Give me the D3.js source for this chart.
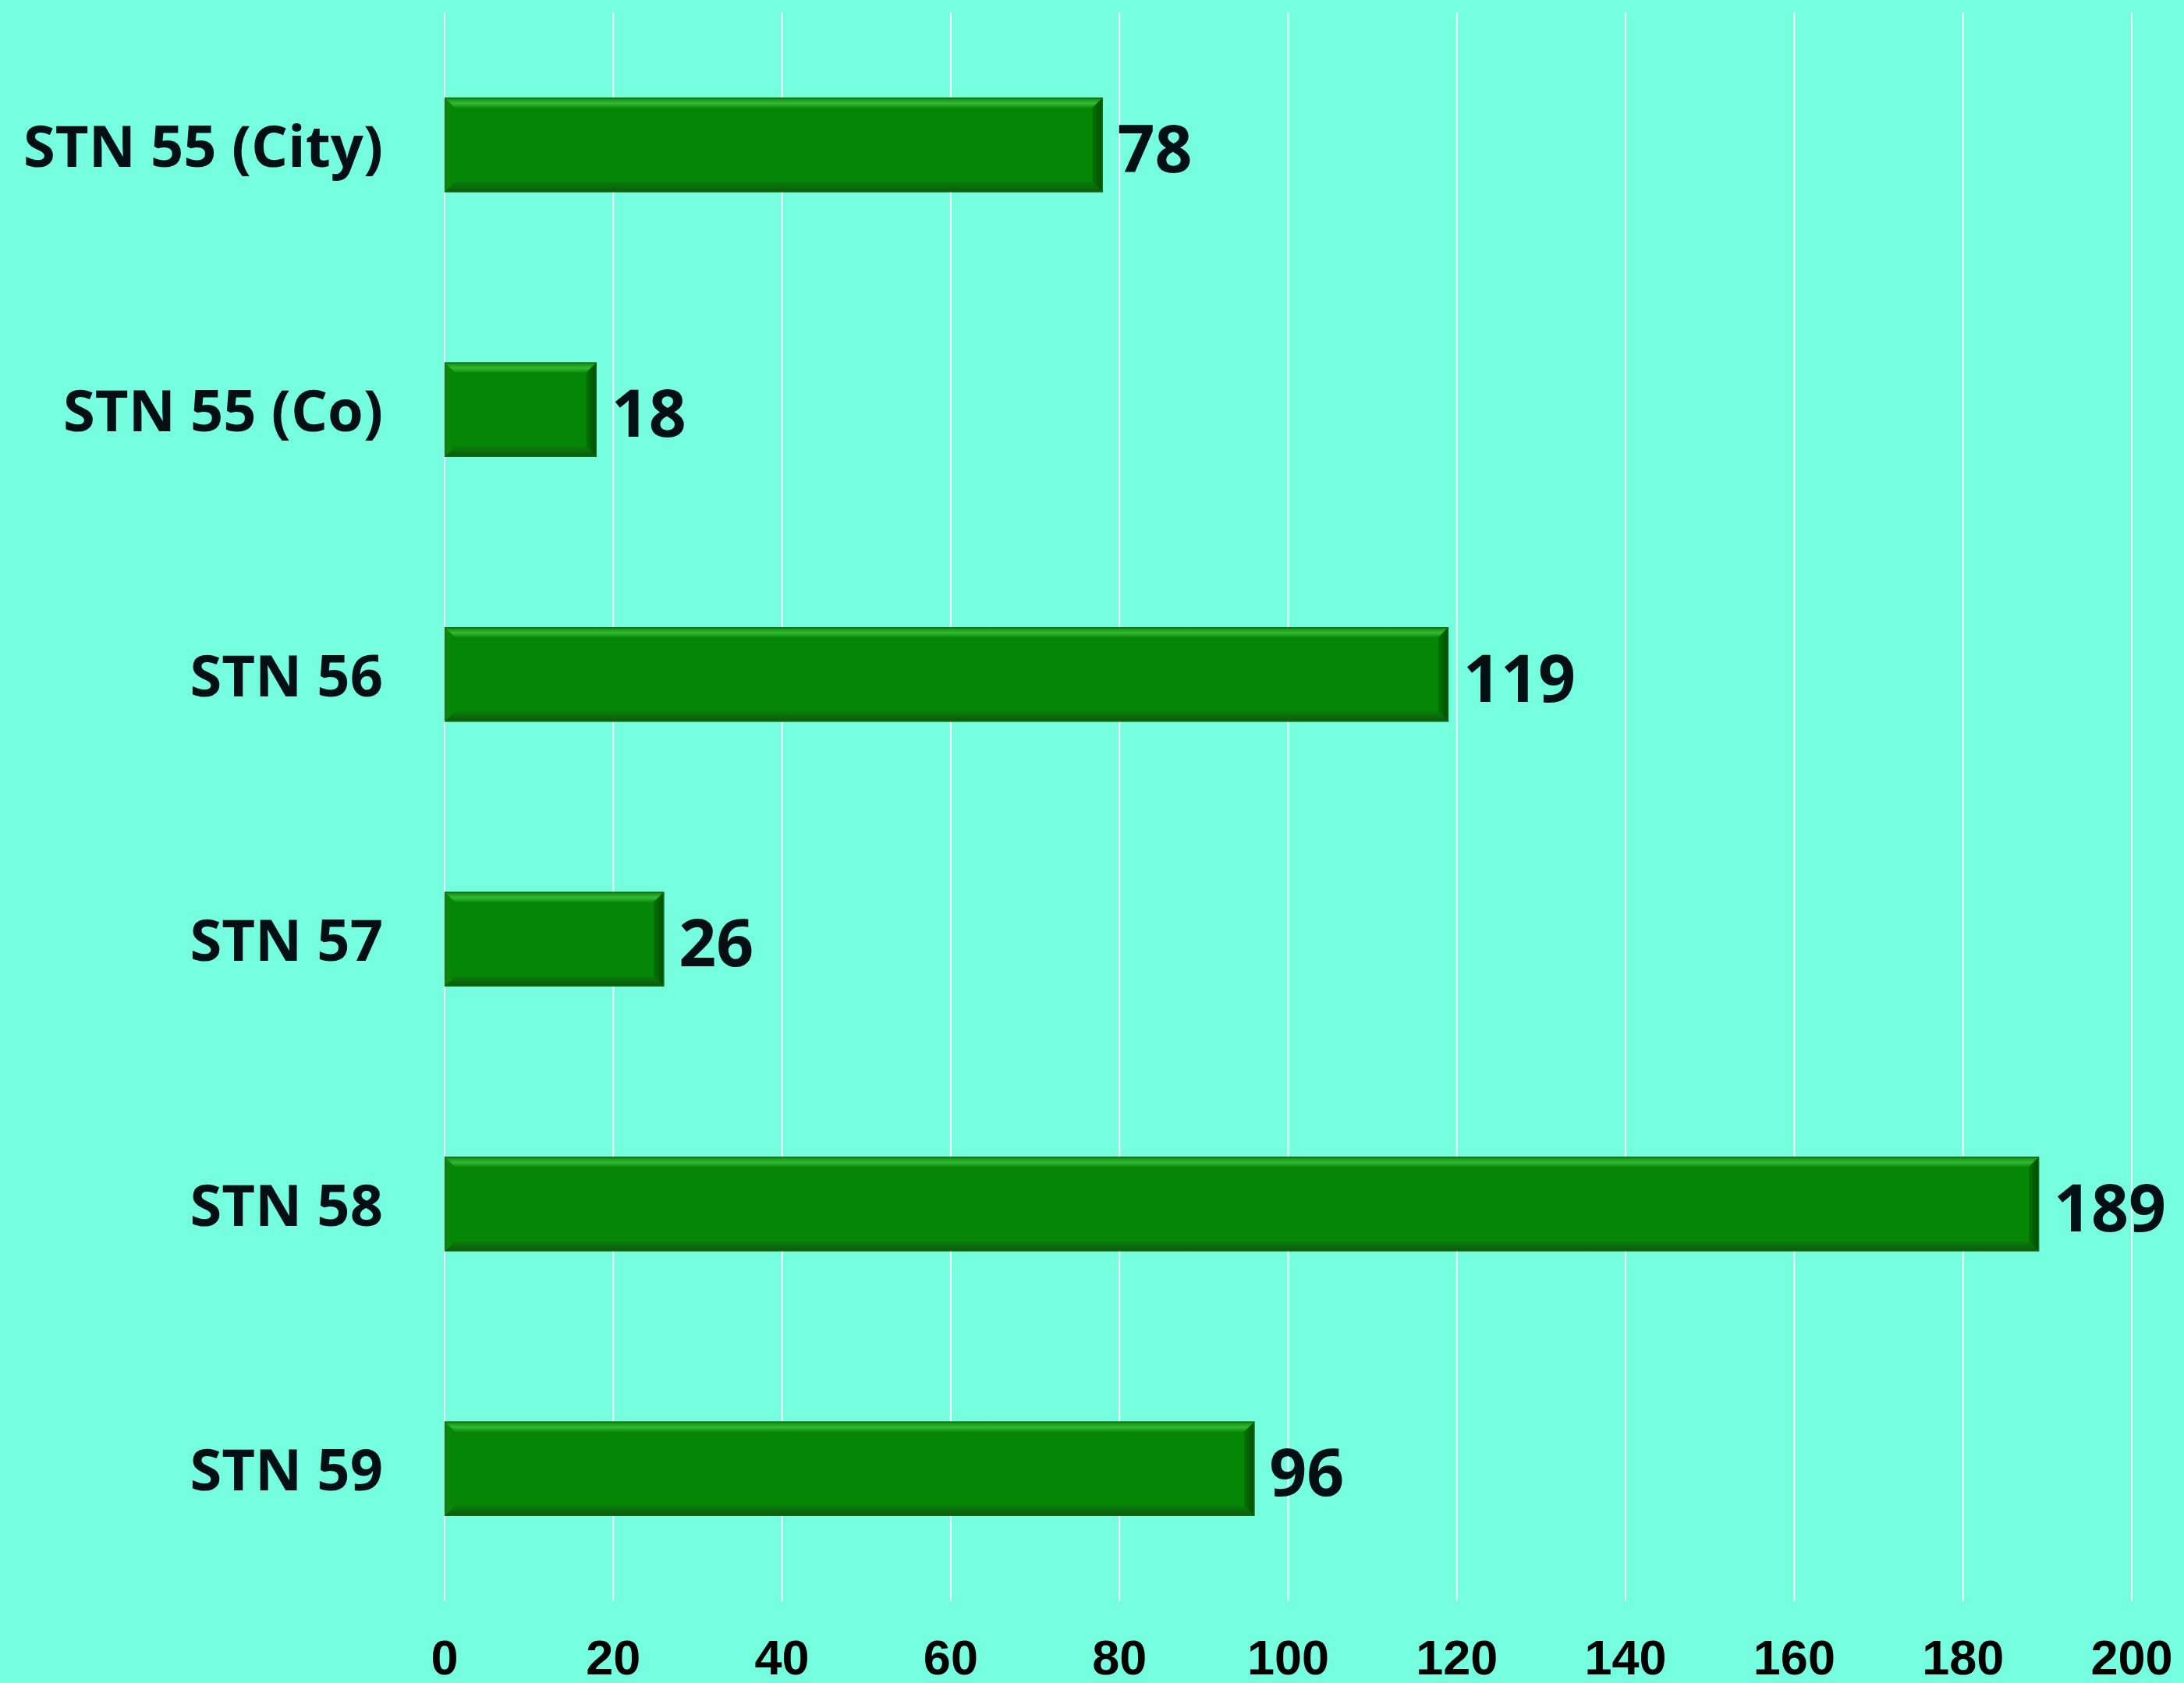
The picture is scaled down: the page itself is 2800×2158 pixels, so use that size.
<!DOCTYPE html>
<html>
<head>
<meta charset="utf-8">
<script src="https://cdn.jsdelivr.net/npm/d3@7"></script>
<style>
  html, body { margin: 0; padding: 0; background: #76FFDF; }
  svg { display: block; }
</style>
</head>
<body>
<script>
const categories = ["STN 55 (City)", "STN 55 (Co)", "STN 56", "STN 57", "STN 58", "STN 59"];
const values = [78, 18, 119, 26, 189, 96];
const tickValues = [0, 20, 40, 60, 80, 100, 120, 140, 160, 180, 200];

const W = 2800, H = 2158;
const m = { left: 570, right: 2733, top: 16, bottom: 2053 };

const svg = d3.select("body").append("svg").attr("width", W).attr("height", H);
svg.append("rect").attr("width", W).attr("height", H).attr("fill", "#76FFDF");

const x = d3.scaleLinear().domain([0, 200]).range([m.left, m.right]);
const y = d3.scaleBand().domain(categories).range([m.top, m.bottom])
  .paddingInner(0.644).paddingOuter(0.322);

// gradients
const defs = svg.append("defs");
const gTop = defs.append("linearGradient").attr("id", "gTop").attr("x1", 0).attr("y1", 0).attr("x2", 0).attr("y2", 1);
gTop.append("stop").attr("offset", "0%").attr("stop-color", "#0a8d0a");
gTop.append("stop").attr("offset", "55%").attr("stop-color", "#34b834");
gTop.append("stop").attr("offset", "100%").attr("stop-color", "#0b8f0b");
const gBot = defs.append("linearGradient").attr("id", "gBot").attr("x1", 0).attr("y1", 0).attr("x2", 0).attr("y2", 1);
gBot.append("stop").attr("offset", "0%").attr("stop-color", "#0a7d0a");
gBot.append("stop").attr("offset", "100%").attr("stop-color", "#0a5a0a");
const gRight = defs.append("linearGradient").attr("id", "gRight").attr("x1", 0).attr("y1", 0).attr("x2", 1).attr("y2", 0);
gRight.append("stop").attr("offset", "0%").attr("stop-color", "#047204");
gRight.append("stop").attr("offset", "100%").attr("stop-color", "#024c02");
const gLeft = defs.append("linearGradient").attr("id", "gLeft").attr("x1", 0).attr("y1", 0).attr("x2", 1).attr("y2", 0);
gLeft.append("stop").attr("offset", "0%").attr("stop-color", "#0a8a0a");
gLeft.append("stop").attr("offset", "100%").attr("stop-color", "#068406");

// gridlines
svg.append("g").selectAll("line").data(tickValues).join("line")
  .attr("x1", d => x(d)).attr("x2", d => x(d))
  .attr("y1", m.top).attr("y2", m.bottom)
  .attr("stroke", "#f2fffb").attr("stroke-width", 2);

// bars with bevel
const bev = 13;
const bars = svg.append("g").selectAll("g").data(categories.map((c, i) => ({ c, v: values[i] }))).join("g");
bars.each(function(d) {
  const g = d3.select(this);
  const x0 = x(0), x1 = x(d.v), y0 = y(d.c), y1 = y0 + y.bandwidth();
  g.append("rect").attr("x", x0).attr("y", y0).attr("width", x1 - x0).attr("height", y1 - y0).attr("fill", "#068606");
  const pts = a => a.map(p => p.join(",")).join(" ");
  g.append("polygon").attr("points", pts([[x0, y0], [x1, y0], [x1 - bev, y0 + bev], [x0 + bev, y0 + bev]])).attr("fill", "url(#gTop)");
  g.append("polygon").attr("points", pts([[x0, y1], [x1, y1], [x1 - bev, y1 - bev], [x0 + bev, y1 - bev]])).attr("fill", "url(#gBot)");
  g.append("polygon").attr("points", pts([[x0, y0], [x0 + bev, y0 + bev], [x0 + bev, y1 - bev], [x0, y1]])).attr("fill", "url(#gLeft)");
  g.append("polygon").attr("points", pts([[x1, y0], [x1 - bev, y0 + bev], [x1 - bev, y1 - bev], [x1, y1]])).attr("fill", "url(#gRight)");
  g.append("rect").attr("x", x0 + 0.5).attr("y", y0 + 0.5).attr("width", x1 - x0 - 1).attr("height", y1 - y0 - 1)
    .attr("fill", "none").attr("stroke", "#1a6a1a").attr("stroke-width", 1.5);
});

// value labels
svg.append("g").selectAll("text").data(categories.map((c, i) => ({ c, v: values[i] }))).join("text")
  .attr("x", d => x(d.v) + 19)
  .attr("y", d => y(d.c) + y.bandwidth() / 2 + 35)
  .attr("font-family", "'Open Sans', 'Noto Sans', sans-serif")
  .attr("font-weight", "bold").attr("font-size", 84)
  .attr("fill", "#020f14")
  .text(d => d.v);

// category axis labels
svg.append("g").selectAll("text").data(categories).join("text")
  .attr("x", m.left - 79)
  .attr("y", d => y(d) + y.bandwidth() / 2 + 28)
  .attr("text-anchor", "end")
  .attr("font-family", "'Open Sans', 'Noto Sans', sans-serif")
  .attr("font-weight", "bold").attr("font-size", 74)
  .attr("fill", "#020f14")
  .text(d => d);

// x tick labels
svg.append("g").selectAll("text").data(tickValues).join("text")
  .attr("x", d => x(d))
  .attr("y", 2147)
  .attr("text-anchor", "middle")
  .attr("font-family", "'Liberation Sans', Arial, sans-serif")
  .attr("font-weight", "bold").attr("font-size", 63)
  .attr("fill", "#000")
  .text(d => d);
</script>
</body>
</html>
